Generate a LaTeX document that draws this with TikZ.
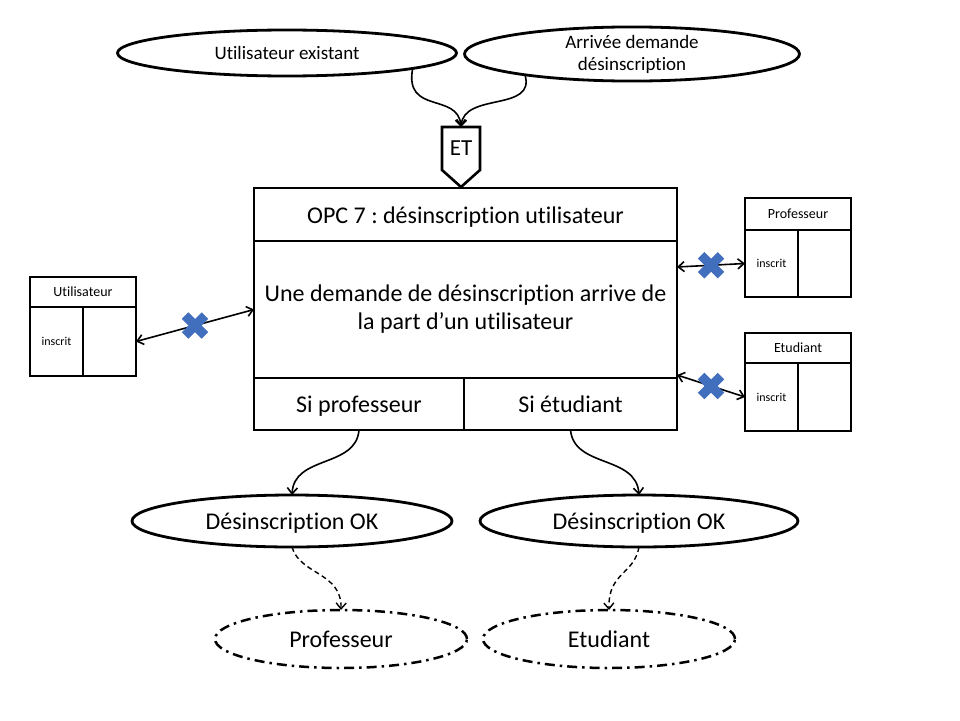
\documentclass[tikz,border=0pt]{standalone}
\usepackage{fontspec}
\setmainfont{Carlito}[Ligatures=NoCommon]
\usetikzlibrary{shapes.geometric,arrows.meta,calc}
\definecolor{crossblue}{RGB}{66,110,190}
\frenchspacing
\begin{document}
\begin{tikzpicture}[x=1pt,y=-1pt,
  every node/.style={inner sep=0pt,outer sep=0pt},
  bigtxt/.style={font=\fontsize{24}{29}\selectfont},
  fixh/.style={text height=19pt,text depth=2pt},
  midtxt/.style={font=\fontsize{19}{22}\selectfont},
  oval/.style={ellipse,draw,line width=2.8pt},
  dashoval/.style={ellipse,draw,line width=2.5pt,dash pattern=on 10pt off 5pt on 2.5pt off 5pt},
  cell/.style={draw,rectangle,line width=2.6pt},
  hdrcell/.style={draw,rectangle,line width=2.6pt,font=\fontsize{14}{16}\selectfont},
  smalltxt/.style={font=\fontsize{12}{14}\selectfont},
  link/.style={line width=1.6pt,-{Straight Barb[length=6pt,width=10pt]}},
  dlink/.style={line width=1.4pt,dash pattern=on 5pt off 3.5pt,-{Straight Barb[length=6pt,width=10pt]}},
  biarrow/.style={line width=1.6pt,{Straight Barb[length=6pt,width=10pt]}-{Straight Barb[length=6pt,width=10pt]}},
  xmark/.pic={
    \fill[crossblue,rotate=45] (-14,-4.6) rectangle (14,4.6);
    \fill[crossblue,rotate=-45] (-14,-4.6) rectangle (14,4.6);
  }]
\useasboundingbox (0,0) rectangle (960,720);
\fill[white] (0,0) rectangle (960,720);

% top ellipses
\node[oval,midtxt,minimum width=339,minimum height=46] (e1) at (287,53) {Utilisateur existant};
\node[oval,midtxt,minimum width=335,minimum height=51,align=center] (e2) at (632,54) {Arrivée demande\\désinscription};

% ET gate
\node[font=\fontsize{23}{26}\selectfont,minimum width=38,minimum height=43] (et) at (461,148.5) {ET};
\coordinate (ettip) at (461,187);
\draw[line width=2.6pt,line join=miter] (et.north west) -- (et.north east) -- (et.south east) -- (ettip) -- (et.south west) -- cycle;

\draw[link] (e1.-7.5) .. controls (404,115) and (458,92) .. (et.north);
\draw[link] (e2.191) .. controls (536,112) and (464,92) .. (et.north);

% main box
\node[cell,bigtxt,fixh,minimum width=423,minimum height=53] (title) at (465.5,214.5) {OPC 7 : désinscription utilisateur};
\node[cell,bigtxt,minimum width=423,minimum height=137,align=center] (mid) at (465.5,309.5) {Une demande de désinscription arrive de\\[-1pt]la part d’un utilisateur};
\node[cell,bigtxt,fixh,minimum width=210,minimum height=52] (bl) at (359,404) {Si professeur};
\node[cell,bigtxt,fixh,minimum width=213,minimum height=52] (br) at (570.5,404) {Si étudiant};

% Utilisateur box
\node[hdrcell,minimum width=106,minimum height=30] (uh) at (83,292) {Utilisateur};
\node[cell,minimum width=53,minimum height=69] (ul) at (56.5,341.5) {};
\node[cell,minimum width=53,minimum height=69] (ur) at (109.5,341.5) {};
\node[smalltxt] at (ul) {inscrit};

% Professeur box
\node[hdrcell,minimum width=106,minimum height=32] (ph) at (798,214) {Professeur};
\node[cell,minimum width=53,minimum height=67] (pl) at (771.5,263.5) {};
\node[cell,minimum width=53,minimum height=67] (pr) at (824.5,263.5) {};
\node[smalltxt] at (pl) {inscrit};

% Etudiant box
\node[hdrcell,minimum width=106,minimum height=30] (eh) at (798,348) {Etudiant};
\node[cell,minimum width=53,minimum height=68] (el) at (771.5,397) {};
\node[cell,minimum width=53,minimum height=68] (er) at (824.5,397) {};
\node[smalltxt] at (el) {inscrit};

% crossed links
\coordinate (mp) at ($(mid.north east)+(0,26)$);
\coordinate (me) at ($(mid.south east)+(0,-3)$);
\draw[biarrow] (ur.east) -- (mid.west);
\draw[biarrow] (mp) -- (pl.west);
\draw[biarrow] (me) -- (el.west);
\path ($(ur.east)!.5!(mid.west)$) pic {xmark};
\path ($(mp)!.5!(pl.west)$) pic {xmark};
\path ($(me)!.5!(el.west)$) pic {xmark};

% result ellipses
\node[oval,bigtxt,fixh,minimum width=320,minimum height=52] (d1) at (292,521) {Désinscription OK};
\node[oval,bigtxt,fixh,minimum width=318,minimum height=52] (d2) at (639,521) {Désinscription OK};
\draw[link] (bl.south) .. controls (356,468) and (294,455) .. (d1.north);
\draw[link] (br.south) .. controls (574,468) and (636,455) .. (d2.north);

% actor ellipses
\node[dashoval,bigtxt,fixh,minimum width=252,minimum height=58] (p1) at (341,639) {Professeur};
\node[dashoval,bigtxt,fixh,minimum width=252,minimum height=58] (p2) at (609,639) {Etudiant};
\draw[dlink] (d1.south) .. controls (300,575) and (342,572) .. (p1.north);
\draw[dlink] (d2.south) .. controls (634,575) and (608,572) .. (p2.north);
\end{tikzpicture}
\end{document}
